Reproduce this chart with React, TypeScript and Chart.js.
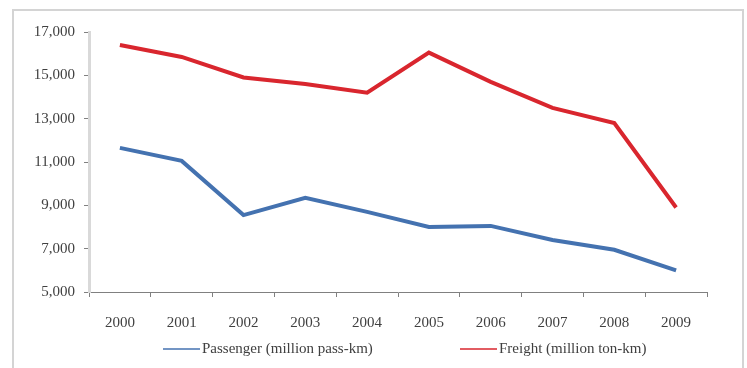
import React, { useEffect, useRef } from "react";
import { Chart, registerables } from "chart.js";

Chart.register(...registerables);

const years = ["2000", "2001", "2002", "2003", "2004", "2005", "2006", "2007", "2008", "2009"];
const passenger = [11650, 11050, 8550, 9350, 8700, 8000, 8050, 7400, 6950, 6000];
const freight = [16400, 15850, 14900, 14600, 14200, 16050, 14700, 13500, 12800, 8900];
const seriesLabels = ["Passenger (million pass-km)", "Freight (million ton-km)"];
const yMin = 5000;
const yMax = 17000;
const yStep = 2000;

const FONT = "'Liberation Serif', 'Times New Roman', serif";
const TEXT = "#404040";

const legendPlugin = {
  id: "customLegend",
  afterDraw(chart: any) {
    const ctx = chart.ctx;
    const area = chart.chartArea;
    const starts = [area.left + 74, area.left + 371];
    const y = 349;
    ctx.save();
    chart.data.datasets.forEach((ds: any, i: number) => {
      const x0 = starts[i];
      ctx.strokeStyle = ds.borderColor;
      ctx.lineWidth = 1.5;
      ctx.beginPath();
      ctx.moveTo(x0, y);
      ctx.lineTo(x0 + 37, y);
      ctx.stroke();
      ctx.fillStyle = TEXT;
      ctx.font = `15px ${FONT}`;
      ctx.textBaseline = "middle";
      ctx.textAlign = "left";
      ctx.fillText(ds.label, x0 + 39, y);
    });
    ctx.restore();
  },
};

export default function App() {
  const ref = useRef<HTMLCanvasElement>(null);
  useEffect(() => {
    if (!ref.current) return;
    const chart = new Chart(ref.current, {
      type: "line",
      data: {
        labels: years,
        datasets: [
          {
            label: seriesLabels[0],
            data: passenger,
            borderColor: "#4472B0",
            backgroundColor: "#4472B0",
            borderWidth: 4,
            pointRadius: 0,
            tension: 0,
          },
          {
            label: seriesLabels[1],
            data: freight,
            borderColor: "#D9262E",
            backgroundColor: "#D9262E",
            borderWidth: 4,
            pointRadius: 0,
            tension: 0,
          },
        ],
      },
      options: {
        animation: false,
        responsive: false,
        layout: { padding: { left: 14, right: 40, top: 32, bottom: 36 } },
        plugins: {
          legend: { display: false },
          tooltip: { enabled: false },
        },
        scales: {
          x: {
            offset: true,
            grid: {
              offset: true,
              drawOnChartArea: false,
              drawTicks: true,
              tickLength: 5,
              tickColor: "#808080",
            },
            border: { color: "#808080", width: 1 },
            ticks: {
              color: TEXT,
              font: { family: FONT, size: 15 },
              padding: 17,
              maxRotation: 0,
            },
            afterFit(scale: any) {
              scale.height = 40;
            },
          },
          y: {
            min: yMin,
            max: yMax,
            grid: {
              drawOnChartArea: false,
              drawTicks: true,
              tickLength: 5,
              tickColor: "#808080",
            },
            border: { color: "#D9D9D9", width: 3 },
            ticks: {
              stepSize: yStep,
              color: TEXT,
              font: { family: FONT, size: 15 },
              padding: 9,
              callback: (v: any) => Number(v).toLocaleString("en-US"),
            },
            afterFit(scale: any) {
              scale.width = 75;
            },
          },
        },
      },
      plugins: [legendPlugin],
    });
    return () => chart.destroy();
  }, []);

  return (
    <div style={{ position: "fixed", left: 0, top: 0, width: 747, height: 368, background: "#fff", overflow: "hidden" }}>
      <div
        style={{
          position: "absolute",
          left: 12,
          top: 9,
          width: 732,
          height: 380,
          border: "2px solid #D4D4D4",
          boxSizing: "border-box",
        }}
      />
      <canvas ref={ref} width={747} height={368} style={{ position: "absolute", left: 0, top: 0 }} />
    </div>
  );
}
